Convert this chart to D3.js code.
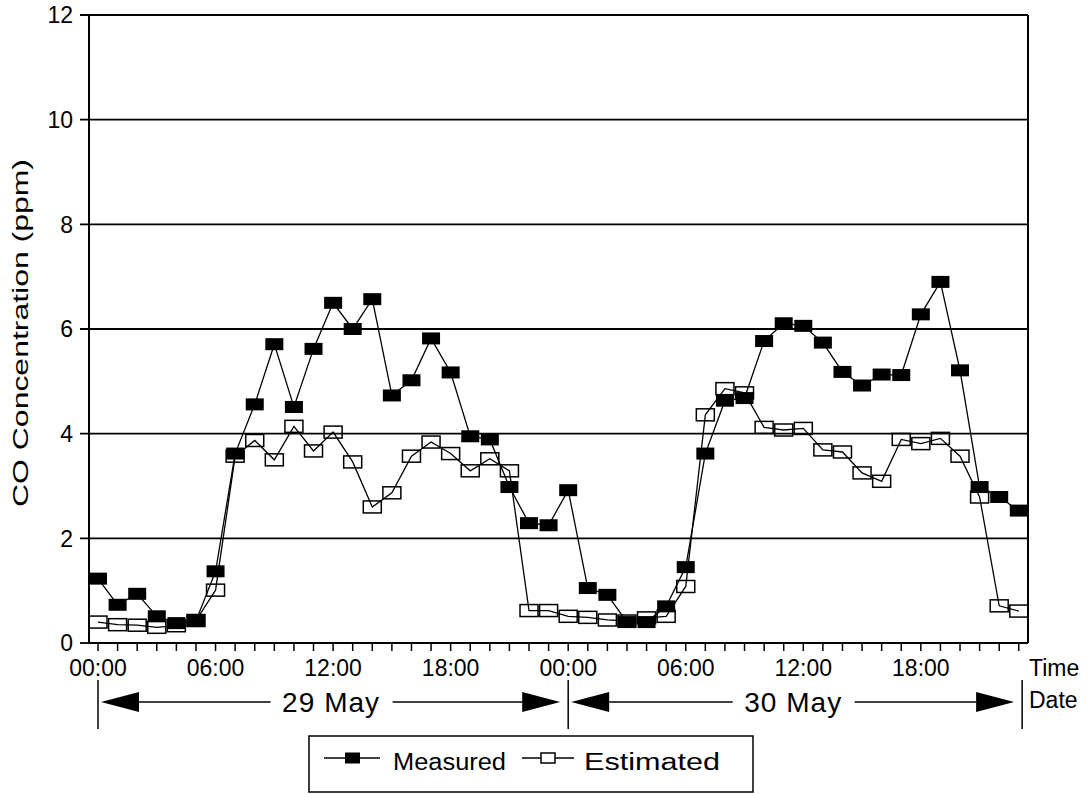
<!DOCTYPE html>
<html><head><meta charset="utf-8">
<script src="https://cdn.jsdelivr.net/npm/d3@7"></script>
<style>
body{margin:0;background:#fff;}
svg{display:block;font-family:"Liberation Sans",Arial,sans-serif;}
</style></head>
<body><svg id="c" width="1090" height="794"></svg>
<script>
const hours = d3.range(48);
const measured = [1.23,0.73,0.94,0.51,0.38,0.42,1.37,
  3.62,4.56,5.71,4.51,5.62,6.50,6.00,6.57,4.73,5.02,5.82,5.17,3.95,
  3.89,2.98,2.29,2.25,2.92,1.05,0.92,0.40,0.40,0.70,1.45,
  3.62,4.63,4.68,5.77,6.11,6.06,5.74,5.18,4.92,5.13,5.12,6.28,6.90,5.21,2.98,2.79,2.53];
const estimated = [0.40,0.35,0.34,0.30,0.33,0.43,1.01,
  3.57,3.87,3.50,4.14,3.67,4.03,3.46,2.60,2.87,3.57,3.84,3.62,3.29,
  3.52,3.29,0.62,0.62,0.51,0.49,0.44,0.42,0.48,0.51,1.08,
  4.36,4.86,4.78,4.12,4.07,4.10,3.69,3.65,3.25,3.09,3.89,3.81,3.91,3.57,2.79,0.71,0.61];
const yTicks = [0,2,4,6,8,10,12];
const xLabelHours = [0,6,12,18,24,30,36,42];
const xLabels = ["00:00","06:00","12:00","18:00","00:00","06:00","12:00","18:00"];
const days = ["29 May","30 May"];
const dayBounds = [0,24,47.17];
const seriesNames = ["Measured","Estimated"];

const svg = d3.select("#c");
const x = d3.scaleLinear().domain([-0.46,47.47]).range([89,1028]);
const y = d3.scaleLinear().domain([0,12]).range([643,15]);

// gridlines + y ticks
svg.append("g").selectAll("line").data(yTicks.filter(d=>d>0)).join("line")
  .attr("x1",80).attr("x2",x.range()[1]).attr("y1",d=>y(d)).attr("y2",d=>y(d))
  .attr("stroke","#000").attr("stroke-width",1.8);
svg.append("line").attr("x1",80).attr("x2",89).attr("y1",y(0)).attr("y2",y(0)).attr("stroke","#000").attr("stroke-width",1.8);
svg.append("g").selectAll("text").data(yTicks).join("text")
  .attr("x",73).attr("y",d=>y(d)).attr("dy","0.36em").attr("text-anchor","end")
  .attr("font-size",23).text(d=>d);

// frame
svg.append("line").attr("x1",x.range()[0]).attr("x2",x.range()[0]).attr("y1",y(12)).attr("y2",y(0)).attr("stroke","#000").attr("stroke-width",2);
svg.append("line").attr("x1",x.range()[1]).attr("x2",x.range()[1]).attr("y1",y(12)).attr("y2",y(0)).attr("stroke","#000").attr("stroke-width",2);
svg.append("line").attr("x1",x.range()[0]).attr("x2",x.range()[1]).attr("y1",y(0)).attr("y2",y(0)).attr("stroke","#000").attr("stroke-width",2);

// x ticks
svg.append("g").selectAll("line").data(hours).join("line")
  .attr("x1",d=>x(d)).attr("x2",d=>x(d)).attr("y1",y(0)).attr("y2",y(0)+8)
  .attr("stroke","#000").attr("stroke-width",1.5);
svg.append("g").selectAll("text").data(xLabelHours).join("text")
  .attr("x",d=>x(d)).attr("y",676).attr("text-anchor","middle").attr("font-size",23)
  .text((d,i)=>xLabels[i]);
svg.append("text").attr("x",1029).attr("y",676).attr("font-size",23).text("Time");
svg.append("text").attr("x",1029).attr("y",708).attr("font-size",23).text("Date");

// y title
svg.append("text").attr("transform","translate(28,333) rotate(-90)")
  .attr("text-anchor","middle").attr("font-size",22)
  .attr("textLength",348).attr("lengthAdjust","spacingAndGlyphs")
  .text("CO Concentration (ppm)");

// day arrows
const ay = 702;
const dg = svg.append("g");
dayBounds.forEach(b=>{
  dg.append("line").attr("x1",x(b)).attr("x2",x(b)).attr("y1",680).attr("y2",729).attr("stroke","#000").attr("stroke-width",1.5);
});
days.forEach((d,i)=>{
  const x0 = x(dayBounds[i])+3, x1 = x(dayBounds[i+1])-8;
  const cx = (x0+x1)/2;
  dg.append("text").attr("x",cx).attr("y",712).attr("text-anchor","middle").attr("font-size",28)
    .attr("textLength",97).attr("lengthAdjust","spacing").text(d);
  dg.append("path").attr("d",`M${x0},${ay}L${x0+38},${ay-10}L${x0+38},${ay+10}Z`).attr("fill","#000");
  dg.append("path").attr("d",`M${x1},${ay}L${x1-38},${ay-10}L${x1-38},${ay+10}Z`).attr("fill","#000");
  dg.append("line").attr("x1",x0+38).attr("x2",cx-60).attr("y1",ay).attr("y2",ay).attr("stroke","#000").attr("stroke-width",1.5);
  dg.append("line").attr("x1",cx+62).attr("x2",x1-38).attr("y1",ay).attr("y2",ay).attr("stroke","#000").attr("stroke-width",1.5);
});

// series
const line = d3.line().x((d,i)=>x(hours[i])).y(d=>y(d));
const W=18,H=12;
svg.append("path").datum(estimated).attr("d",line).attr("fill","none").attr("stroke","#000").attr("stroke-width",1.3);
svg.append("g").selectAll("rect").data(estimated).join("rect")
  .attr("x",(d,i)=>x(hours[i])-W/2).attr("y",d=>y(d)-H/2).attr("width",W).attr("height",H)
  .attr("fill","none").attr("stroke","#000").attr("stroke-width",1.5);
svg.append("path").datum(measured).attr("d",line).attr("fill","none").attr("stroke","#000").attr("stroke-width",1.3);
svg.append("g").selectAll("rect").data(measured).join("rect")
  .attr("x",(d,i)=>x(hours[i])-W/2).attr("y",d=>y(d)-H/2).attr("width",W).attr("height",H)
  .attr("fill","#000");

// legend
const lg = svg.append("g");
lg.append("rect").attr("x",309).attr("y",736).attr("width",444).attr("height",56).attr("fill","none").attr("stroke","#000").attr("stroke-width",1.5);
const ly = 758;
lg.append("line").attr("x1",324).attr("x2",380).attr("y1",ly).attr("y2",ly).attr("stroke","#000").attr("stroke-width",1.5);
lg.append("rect").attr("x",345).attr("y",ly-5.5).attr("width",15).attr("height",11).attr("fill","#000");
lg.append("text").attr("x",393).attr("y",770).attr("font-size",23).attr("textLength",113).attr("lengthAdjust","spacingAndGlyphs").text(seriesNames[0]);
lg.append("line").attr("x1",522).attr("x2",574).attr("y1",ly).attr("y2",ly).attr("stroke","#000").attr("stroke-width",1.5);
lg.append("rect").attr("x",541).attr("y",ly-5).attr("width",14).attr("height",10).attr("fill","#fff").attr("stroke","#000").attr("stroke-width",1.5);
lg.append("text").attr("x",584).attr("y",770).attr("font-size",23).attr("textLength",136).attr("lengthAdjust","spacingAndGlyphs").text(seriesNames[1]);
</script></body></html>
